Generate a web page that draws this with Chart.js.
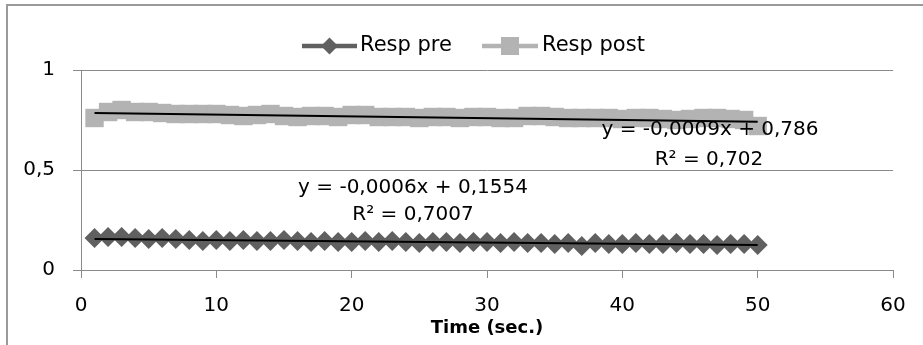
<!DOCTYPE html>
<html>
<head>
<meta charset="utf-8">
<script src="https://cdn.jsdelivr.net/npm/chart.js@4.4.1/dist/chart.umd.min.js"></script>
<style>
  html, body { margin: 0; padding: 0; background: #fff; }
  #wrap { width: 923px; height: 345px; }
</style>
</head>
<body>
<div id="wrap"><canvas id="chart" width="923" height="345"></canvas></div>
<script>
// time in seconds
const times = [];
for (let t = 1; t <= 50; t++) times.push(t);

const respPre = [0.16,0.165,0.165,0.16,0.155,0.16,0.155,0.15,0.145,0.15,
  0.145,0.15,0.145,0.145,0.15,0.145,0.14,0.145,0.14,0.14,
  0.145,0.14,0.145,0.14,0.135,0.14,0.14,0.135,0.14,0.14,
  0.135,0.14,0.135,0.135,0.13,0.135,0.12,0.135,0.13,0.13,
  0.135,0.13,0.13,0.135,0.13,0.13,0.125,0.13,0.13,0.125];

const respPost = [0.76,0.79,0.80,0.79,0.79,0.785,0.78,0.78,0.78,0.78,
  0.775,0.77,0.775,0.78,0.77,0.765,0.77,0.77,0.765,0.775,
  0.775,0.765,0.765,0.765,0.76,0.765,0.765,0.76,0.765,0.765,
  0.76,0.76,0.77,0.77,0.765,0.76,0.76,0.76,0.76,0.755,
  0.76,0.76,0.755,0.75,0.755,0.76,0.76,0.755,0.75,0.72];

// linear trendlines as shown on the chart
const trendPre = { slope: -0.0006, intercept: 0.1554, r2: '0,7007' };
const trendPost = { slope: -0.0009, intercept: 0.786, r2: '0,702' };

const xTicks = [0, 10, 20, 30, 40, 50, 60];
const yTicks = [0, 0.5, 1];

const preColor = '#606060';
const postColor = '#b3b3b3';
const gridColor = '#8a8a8a';
const font = 'DejaVu Sans';

function pts(ys) { return ys.map((y, i) => ({ x: times[i], y })); }
function trend(tr) {
  const a = times[0], b = times[times.length - 1];
  return [{ x: a, y: tr.intercept + tr.slope * a }, { x: b, y: tr.intercept + tr.slope * b }];
}
function fmt(v) { return String(v).replace('.', ','); }

const extras = {
  id: 'extras',
  afterDraw(chart) {
    const ctx = chart.ctx;
    ctx.save();
    // outer frame
    ctx.strokeStyle = '#9a9a9a';
    ctx.lineWidth = 2;
    ctx.beginPath();
    ctx.moveTo(7, 360); ctx.lineTo(7, 5); ctx.lineTo(940, 5);
    ctx.stroke();

    // legend
    ctx.font = '21px "' + font + '"';
    ctx.textBaseline = 'middle';
    ctx.fillStyle = '#000';
    const ly = 46;
    ctx.strokeStyle = preColor; ctx.lineWidth = 4.5;
    ctx.beginPath(); ctx.moveTo(302, ly); ctx.lineTo(357, ly); ctx.stroke();
    ctx.fillStyle = preColor;
    ctx.beginPath();
    ctx.moveTo(329.5, ly - 8.5); ctx.lineTo(338, ly); ctx.lineTo(329.5, ly + 8.5); ctx.lineTo(321, ly);
    ctx.closePath(); ctx.fill();
    ctx.fillStyle = '#000';
    ctx.textAlign = 'left';
    ctx.fillText('Resp pre', 360, ly);

    ctx.strokeStyle = postColor;
    ctx.beginPath(); ctx.moveTo(482, ly); ctx.lineTo(538, ly); ctx.stroke();
    ctx.fillStyle = postColor;
    ctx.fillRect(501, ly - 9, 18, 18);
    ctx.fillStyle = '#000';
    ctx.fillText('Resp post', 542, ly);

    // trendline labels
    ctx.font = '20px "' + font + '"';
    ctx.textAlign = 'center';
    const eq = tr => 'y = ' + fmt(tr.slope) + 'x + ' + fmt(tr.intercept);
    ctx.fillText(eq(trendPost), 710, 130);
    ctx.fillText('R² = ' + trendPost.r2, 709, 160);
    ctx.fillText(eq(trendPre), 413, 188);
    ctx.fillText('R² = ' + trendPre.r2, 413, 215);
    ctx.restore();
  }
};

new Chart(document.getElementById('chart'), {
  type: 'scatter',
  data: {
    datasets: [
      { label: 'trend pre', data: trend(trendPre), showLine: true, borderColor: '#000', borderWidth: 2, pointRadius: 0, order: 0 },
      { label: 'trend post', data: trend(trendPost), showLine: true, borderColor: '#000', borderWidth: 2, pointRadius: 0, order: 0 },
      { label: 'Resp pre', data: pts(respPre), showLine: true, borderColor: preColor, backgroundColor: preColor,
        borderWidth: 4, pointStyle: 'rectRot', pointRadius: 10, pointBorderWidth: 0, order: 1 },
      { label: 'Resp post', data: pts(respPost), showLine: true, borderColor: postColor, backgroundColor: postColor,
        borderWidth: 4, pointStyle: 'rect', pointRadius: 13, pointBorderWidth: 0, order: 2 }
    ]
  },
  options: {
    responsive: false,
    animation: false,
    devicePixelRatio: 1,
    layout: { padding: { top: 70, right: 30, left: 0, bottom: 0 } },
    plugins: { legend: { display: false }, tooltip: { enabled: false } },
    scales: {
      x: {
        type: 'linear', min: 0, max: 60,
        afterFit(s) { s.height = 75; },
        afterBuildTicks(s) { s.ticks = xTicks.map(v => ({ value: v })); },
        ticks: { color: '#000', font: { family: font, size: 20 }, padding: 16, maxRotation: 0 },
        grid: { drawOnChartArea: false, color: gridColor, tickLength: 8 },
        border: { color: gridColor, width: 1 },
        title: { display: true, text: 'Time (sec.)', color: '#000',
          font: { family: font, size: 18, weight: 'bold' }, padding: { top: 0, bottom: 6 } }
      },
      y: {
        type: 'linear', min: 0, max: 1,
        afterFit(s) { s.width = 81; },
        afterBuildTicks(s) { s.ticks = yTicks.map(v => ({ value: v })); },
        ticks: { color: '#000', font: { family: font, size: 20 }, padding: 18, callback: v => fmt(v) },
        grid: { color: gridColor, tickLength: 8 },
        border: { color: gridColor, width: 1 }
      }
    }
  },
  plugins: [extras]
});
</script>
</body>
</html>
